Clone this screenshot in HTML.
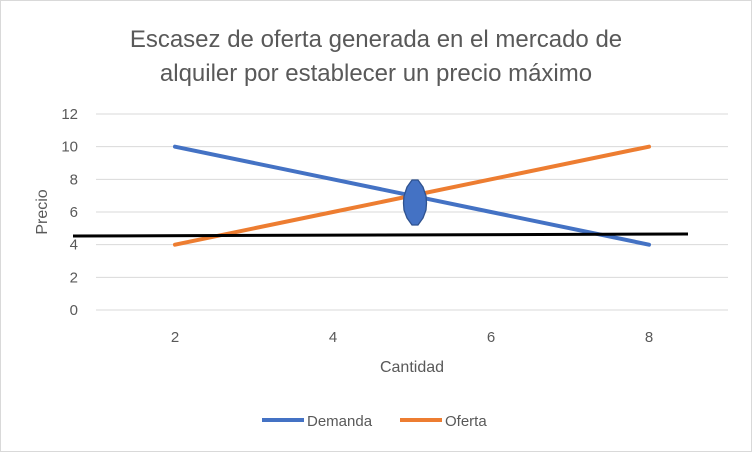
<!DOCTYPE html>
<html><head><meta charset="utf-8"><style>
body{margin:0;background:#fff}
svg{display:block;font-family:"Liberation Sans",Calibri,sans-serif}
</style></head><body>
<svg id="chart" width="752" height="452" viewBox="0 0 752 452" xmlns="http://www.w3.org/2000/svg">
<rect x="0.5" y="0.5" width="751" height="451" fill="#fff" stroke="#d9d9d9"/>
<text x="376" y="47" text-anchor="middle" font-size="24" fill="#595959">Escasez de oferta generada en el mercado de</text>
<text x="376" y="81" text-anchor="middle" font-size="24" fill="#595959">alquiler por establecer un precio máximo</text>
<g id="grid"></g><g id="yt"></g><g id="xt"></g><g id="series"></g>
<line x1="73" y1="236" x2="688" y2="234" stroke="#000" stroke-width="3"/>
<polygon points="412,180 418,180 423,187 426,196 426.5,203 426,210 423,218 418,225 412,225 407,218 404,210 403.5,203 404,196 407,187" fill="#4472c4" stroke="#2f528f" stroke-width="1.3"/>
<text x="412" y="372" text-anchor="middle" font-size="16" fill="#595959">Cantidad</text>
<text transform="translate(47,212) rotate(-90)" text-anchor="middle" font-size="16" fill="#595959">Precio</text>
<line x1="262" y1="420" x2="304" y2="420" stroke="#4472c4" stroke-width="4"/>
<text x="307" y="426" font-size="15" fill="#595959">Demanda</text>
<line x1="400" y1="420" x2="442" y2="420" stroke="#ed7d31" stroke-width="4"/>
<text x="445" y="426" font-size="15" fill="#595959">Oferta</text>
</svg>
<script>
const categories=[2,4,6,8];
const demanda=[10,8,6,4];
const oferta=[4,6,8,10];
const yTicks=[0,2,4,6,8,10,12];
const NS="http://www.w3.org/2000/svg";
const X0=96,X1=728,Y0=310,Y1=114;
const xPos=i=>X0+(X1-X0)/categories.length*(i+0.5);
const yPos=v=>Y0-(Y0-Y1)*v/12;
function mk(tag,attrs,parent){const e=document.createElementNS(NS,tag);for(const k in attrs)e.setAttribute(k,attrs[k]);document.getElementById(parent).appendChild(e);return e;}
yTicks.forEach(v=>{
 const l=mk('line',{x1:X0,x2:X1,y1:yPos(v),y2:yPos(v),stroke:'#d9d9d9','stroke-width':1},'grid');
 
 
 const t=mk('text',{x:78,y:yPos(v)+5,'text-anchor':'end','font-size':15,fill:'#595959'},'yt');
 t.textContent=v;
 
 
});
categories.forEach((c,i)=>{
 const t=mk('text',{x:xPos(i),y:342,'text-anchor':'middle','font-size':15,fill:'#595959'},'xt');
 t.textContent=c;
 
 
});
function line(vals,color,name){
 const p=mk('polyline',{points:vals.map((v,i)=>xPos(i)+','+yPos(v)).join(' '),fill:'none',stroke:color,'stroke-width':4,'stroke-linecap':'round'},'series');
 
 
}
line(demanda,'#4472c4','demanda-line');
line(oferta,'#ed7d31','oferta-line');
</script>
</body></html>
